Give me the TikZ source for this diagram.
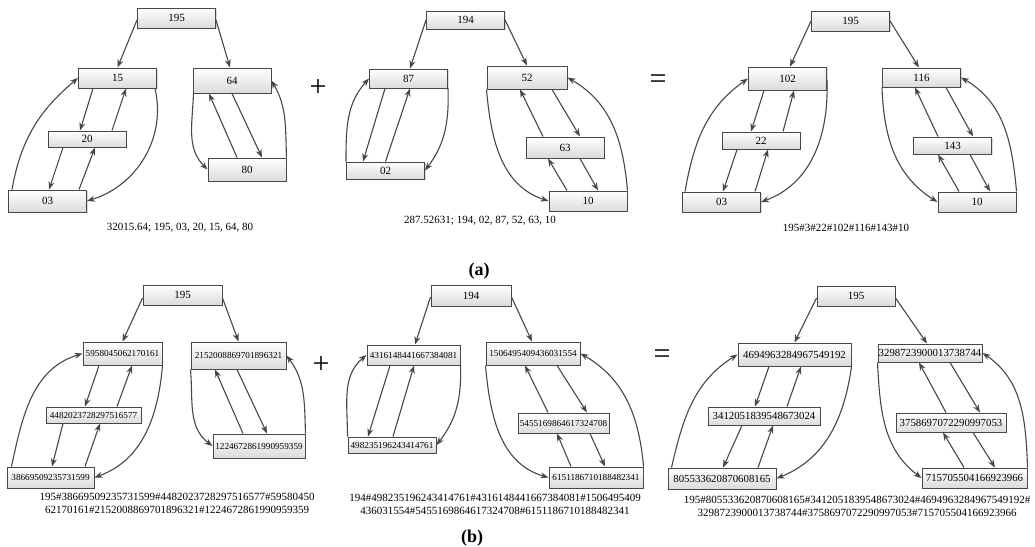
\documentclass[tikz,border=0pt]{standalone}
\usepackage{fontspec}
\setmainfont{Liberation Serif}
\usepackage{tikz}
\usetikzlibrary{arrows.meta, shadows}
\tikzstyle{keybox}   = [rectangle, draw=black!72, line width=1pt, top color=white, bottom color=black!14,
                        inner xsep=0.5pt, inner ysep=0pt, minimum width=78pt, minimum height=20pt,
                        font=\fontsize{11}{13}\selectfont,
                        drop shadow={shadow xshift=1pt, shadow yshift=-1pt, opacity=0.3}]
\tikzstyle{smallkey} = [keybox, font=\fontsize{9.2}{11}\selectfont]
\tikzstyle{bigkey}   = [keybox, font=\fontsize{10.8}{13}\selectfont]
\tikzstyle{arrow}    = [line width=1.1pt, draw=black!72, -{Stealth[length=8pt, width=6pt]}]
\tikzstyle{caption}  = [font=\fontsize{11}{13}\selectfont, align=center, inner sep=0pt]
\tikzstyle{operator} = [font=\fontsize{30}{30}\selectfont, inner sep=0pt]
\tikzstyle{panel}    = [font=\fontsize{18}{18}\selectfont\bfseries, inner sep=0pt]

\begin{document}
\begin{tikzpicture}[x=1pt, y=1pt]
  \useasboundingbox (0,0) rectangle (1035,-546);

  % --- (a) first tree ---
  \node (t1r) [keybox] at (176.5,-18) {195};
  \node (t1a) [keybox] at (117.5,-78) {15};
  \node (t1b) [keybox, minimum height=16pt] at (87,-139) {20};
  \node (t1c) [keybox, minimum height=22pt] at (47.5,-201) {03};
  \node (t1d) [keybox, minimum height=25pt] at (232,-80.5) {64};
  \node (t1e) [keybox, minimum height=23pt] at (247,-169.5) {80};
  \node (c1) [caption] at (180,-228) {32015.64; 195, 03, 20, 15, 64, 80};
  \node (plus1) [operator] at (318,-88) {+};

  \draw[arrow] ([yshift=-2pt]t1r.west) -- (t1a.north);
  \draw[arrow] ([yshift=-2pt]t1r.east) -- ([xshift=-2pt]t1d.north);
  \draw[arrow] ([xshift=-24.5pt]t1a.south) -- ([xshift=-7pt]t1b.north);
  \draw[arrow] ([xshift=25pt]t1b.north) -- ([xshift=8.5pt]t1a.south);
  \draw[arrow] ([xshift=-24pt]t1b.south) -- ([xshift=1.5pt]t1c.north);
  \draw[arrow] ([xshift=31.5pt]t1c.north) -- ([xshift=8pt]t1b.south);
  \draw[arrow] ([xshift=4pt]t1c.north west) to[out=80,in=220] (t1a.west);
  \draw[arrow] ([xshift=-2pt]t1a.south east) to[out=283,in=17] (t1c.east);
  \draw[arrow] ([xshift=1pt]t1d.south west) to[out=268,in=135] (t1e.west);
  \draw[arrow] ([xshift=-10pt]t1e.north) -- ([xshift=-23pt]t1d.south);
  \draw[arrow] (t1d.south) -- ([xshift=15pt]t1e.north);
  \draw[arrow] (t1e.north east) to[out=92,in=300] (t1d.east);

  % --- (a) second tree ---
  \node (t2r) [keybox, minimum height=18pt] at (465.5,-20) {194};
  \node (t2a) [keybox, minimum height=19pt] at (408.5,-78.5) {87};
  \node (t2b) [keybox, minimum height=17pt] at (385.5,-170.5) {02};
  \node (t2c) [keybox, minimum height=23pt, minimum width=80pt] at (527,-77.5) {52};
  \node (t2d) [keybox, minimum height=21pt] at (565,-147.5) {63};
  \node (t2e) [keybox] at (588,-201) {10};
  \node (c2) [caption] at (480,-221) {287.52631; 194, 02, 87, 52, 63, 10};

  \draw[arrow] (t2r.west) -- ([xshift=1.5pt]t2a.north);
  \draw[arrow] (t2r.east) -- (t2c.north);
  \draw[arrow] ([xshift=-23.5pt]t2a.south) -- ([xshift=-22.5pt]t2b.north);
  \draw[arrow] (t2b.north) -- ([xshift=1.5pt]t2a.south);
  \draw[arrow] (t2b.north west) to[out=90,in=228] (t2a.west);
  \draw[arrow] (t2a.south east) to[out=272,in=53] (t2b.east);
  \draw[arrow] (t2c.south west) to[out=275,in=162] (t2e.west);
  \draw[arrow] ([xshift=-22pt]t2d.north) -- ([xshift=-7pt]t2c.south);
  \draw[arrow] ([xshift=25pt]t2c.south) -- ([xshift=15pt]t2d.north);
  \draw[arrow] ([xshift=-21pt]t2e.north) -- ([xshift=-17pt]t2d.south);
  \draw[arrow] ([xshift=15pt]t2d.south) -- ([xshift=10pt]t2e.north);
  \draw[arrow] (t2e.north east) to[out=95,in=330] (t2c.east);

  % --- (a) sum tree ---
  \node (t3r) [keybox] at (850.5,-21) {195};
  \node (t3a) [keybox, minimum height=23pt] at (787.5,-78.5) {102};
  \node (t3b) [keybox, minimum height=17pt] at (761,-140.5) {22};
  \node (t3c) [keybox] at (721.5,-202) {03};
  \node (t3d) [keybox, minimum height=19pt] at (921.5,-77.5) {116};
  \node (t3e) [keybox, minimum height=17pt] at (952.5,-145.5) {143};
  \node (t3f) [keybox] at (977,-202) {10};
  \node (c3) [caption] at (846,-228) {195\#3\#22\#102\#116\#143\#10};
  \node (eq1) [operator] at (658,-82) {=};

  \draw[arrow] (t3r.west) -- ([xshift=2.5pt]t3a.north);
  \draw[arrow] (t3r.east) -- ([xshift=-2.5pt]t3d.north);
  \draw[arrow] ([xshift=-23.5pt]t3a.south) -- ([xshift=-10pt]t3b.north);
  \draw[arrow] ([xshift=22pt]t3b.north) -- ([xshift=6.5pt]t3a.south);
  \draw[arrow] ([xshift=-24pt]t3b.south) -- ([xshift=1.5pt]t3c.north);
  \draw[arrow] ([xshift=33.5pt]t3c.north) -- ([xshift=7pt]t3b.south);
  \draw[arrow] ([xshift=3pt]t3c.north west) to[out=80,in=215] (t3a.west);
  \draw[arrow] ([yshift=-2pt]t3a.east) to[out=272,in=20] (t3c.east);
  \draw[arrow] (t3d.south west) to[out=272,in=148] (t3f.west);
  \draw[arrow] ([xshift=-14.5pt]t3e.north) -- ([xshift=-6.5pt]t3d.south);
  \draw[arrow] ([xshift=24.5pt]t3d.south) -- ([xshift=20.5pt]t3e.north);
  \draw[arrow] ([xshift=-18pt]t3f.north) -- ([xshift=-14.5pt]t3e.south);
  \draw[arrow] ([xshift=17.5pt]t3e.south) -- ([xshift=13pt]t3f.north);
  \draw[arrow] (t3f.north east) to[out=95,in=330] (t3d.east);

  \node (lbla) [panel] at (479,-271) {(a)};

  % --- (b) first tree ---
  \node (b4r) [keybox, minimum width=79pt] at (182.5,-295) {195};
  \node (b4a) [smallkey, minimum width=79pt, minimum height=23pt] at (122.5,-353.5) {5958045062170161};
  \node (b4b) [smallkey, minimum width=95pt, minimum height=16pt] at (93.5,-415) {4482023728297516577};
  \node (b4c) [smallkey, minimum width=87pt, minimum height=21pt] at (50.5,-477.5) {38669509235731599};
  \node (b4d) [smallkey, minimum width=95pt, minimum height=27pt] at (238.5,-355.5) {2152008869701896321};
  \node (b4e) [smallkey, minimum width=92pt, minimum height=24pt] at (259,-446) {1224672861990959359};
  \node (c4) [caption] at (177,-503.5) {195\#38669509235731599\#4482023728297516577\#59580450\\62170161\#2152008869701896321\#1224672861990959359};
  \node (plus2) [operator] at (321,-365) {+};

  \draw[arrow] ([yshift=-3pt]b4r.west) -- (b4a.north);
  \draw[arrow] ([yshift=-3pt]b4r.east) -- (b4d.north);
  \draw[arrow] ([xshift=-23.5pt]b4a.south) -- ([xshift=-8.5pt]b4b.north);
  \draw[arrow] ([xshift=23.5pt]b4b.north) -- ([xshift=9.5pt]b4a.south);
  \draw[arrow] ([xshift=-30.5pt]b4b.south) -- ([xshift=1.5pt]b4c.north);
  \draw[arrow] ([xshift=34.5pt]b4c.north) -- ([xshift=6.5pt]b4b.south);
  \draw[arrow] ([xshift=5pt]b4c.north west) to[out=78,in=197] (b4a.west);
  \draw[arrow] (b4a.south east) to[out=265,in=20] (b4c.east);
  \draw[arrow] (b4d.south west) to[out=275,in=143] (b4e.west);
  \draw[arrow] ([xshift=-16pt]b4e.north) -- ([xshift=-23.5pt]b4d.south);
  \draw[arrow] ([xshift=-1.5pt]b4d.south) -- ([xshift=8pt]b4e.north);
  \draw[arrow] (b4e.north east) to[out=92,in=307] (b4d.east);

  % --- (b) second tree ---
  \node (b5r) [keybox, minimum width=80pt, minimum height=21pt] at (471,-295.5) {194};
  \node (b5a) [smallkey, minimum width=93pt] at (413.5,-355) {4316148441667384081};
  \node (b5b) [smallkey, minimum width=88pt, minimum height=16pt] at (392,-445) {498235196243414761};
  \node (b5c) [smallkey, minimum width=94pt, minimum height=23pt] at (533,-353.5) {1506495409436031554};
  \node (b5d) [smallkey, minimum width=91pt] at (563.5,-423) {5455169864617324708};
  \node (b5e) [smallkey, minimum width=94pt, minimum height=21pt] at (596,-477.5) {6151186710188482341};
  \node (c5) [caption] at (495,-504) {194\#498235196243414761\#4316148441667384081\#1506495409\\436031554\#5455169864617324708\#6151186710188482341};

  \draw[arrow] ([yshift=-1.5pt]b5r.west) -- ([xshift=1.5pt]b5a.north);
  \draw[arrow] ([yshift=-1.5pt]b5r.east) -- ([xshift=-1pt]b5c.north);
  \draw[arrow] ([xshift=-23.5pt]b5a.south) -- ([xshift=-24pt]b5b.north);
  \draw[arrow] ([xshift=1pt]b5b.north) -- ([xshift=0.5pt]b5a.south);
  \draw[arrow] (b5b.north west) to[out=90,in=220] (b5a.west);
  \draw[arrow] (b5a.south east) to[out=272,in=52] (b5b.east);
  \draw[arrow] (b5c.south west) to[out=275,in=164] (b5e.west);
  \draw[arrow] ([xshift=-15.5pt]b5d.north) -- ([xshift=-8pt]b5c.south);
  \draw[arrow] ([xshift=24pt]b5c.south) -- ([xshift=23.5pt]b5d.north);
  \draw[arrow] ([xshift=-25pt]b5e.north) -- ([xshift=-6.5pt]b5d.south);
  \draw[arrow] ([xshift=26.5pt]b5d.south) -- ([xshift=9pt]b5e.north);
  \draw[arrow] (b5e.north east) to[out=95,in=330] (b5c.east);

  % --- (b) sum tree ---
  \node (b6r) [keybox] at (856,-296) {195};
  \node (b6a) [bigkey, minimum width=113pt, minimum height=23pt] at (794.5,-354.5) {4694963284967549192};
  \node (b6b) [bigkey, minimum width=112pt, minimum height=18pt] at (764,-416) {3412051839548673024};
  \node (b6c) [bigkey, minimum width=108pt, minimum height=21pt] at (722,-478.5) {805533620870608165};
  \node (b6d) [bigkey, minimum width=104pt, minimum height=18pt] at (930,-353) {3298723900013738744};
  \node (b6e) [bigkey, minimum width=110pt, minimum height=19pt] at (951,-422.5) {3758697072290997053};
  \node (b6f) [bigkey, minimum width=105pt] at (974.5,-478) {715705504166923966};
  \node (c6) [caption] at (857,-506.5) {195\#805533620870608165\#3412051839548673024\#4694963284967549192\#\\3298723900013738744\#3758697072290997053\#715705504166923966};
  \node (eq2) [operator] at (662,-357) {=};

  \draw[arrow] ([yshift=-2pt]b6r.west) -- (b6a.north);
  \draw[arrow] ([yshift=-2pt]b6r.east) -- ([xshift=-3pt]b6d.north);
  \draw[arrow] ([xshift=-25.5pt]b6a.south) -- ([xshift=-9pt]b6b.north);
  \draw[arrow] ([xshift=23pt]b6b.north) -- ([xshift=6.5pt]b6a.south);
  \draw[arrow] ([xshift=-22pt]b6b.south) -- ([xshift=1pt]b6c.north);
  \draw[arrow] ([xshift=36pt]b6c.north) -- ([xshift=9pt]b6b.south);
  \draw[arrow] ([xshift=4pt]b6c.north west) to[out=77,in=212] (b6a.west);
  \draw[arrow] (b6a.south east) to[out=262,in=22] (b6c.east);
  \draw[arrow] (b6d.south west) to[out=273,in=143] (b6f.west);
  \draw[arrow] ([xshift=-5pt]b6e.north) -- ([xshift=-11pt]b6d.south);
  \draw[arrow] ([xshift=20pt]b6d.south) -- ([xshift=29pt]b6e.north);
  \draw[arrow] ([xshift=-10.5pt]b6f.north) -- ([xshift=-8pt]b6e.south);
  \draw[arrow] ([xshift=22pt]b6e.south) -- ([xshift=20.5pt]b6f.north);
  \draw[arrow] (b6f.north east) to[out=92,in=326] (b6d.east);

  \node (lblb) [panel] at (472,-538) {(b)};

\end{tikzpicture}
\end{document}
